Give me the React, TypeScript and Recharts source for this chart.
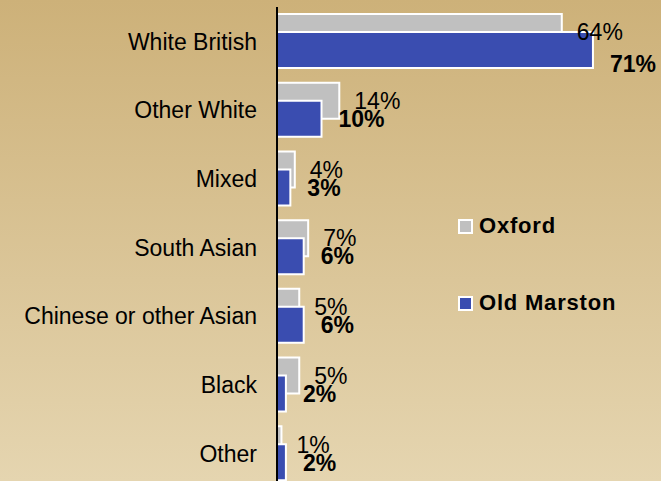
import { BarChart, Bar, XAxis, YAxis, LabelList, Legend } from 'recharts';

const categories = [
  'White British',
  'Other White',
  'Mixed',
  'South Asian',
  'Chinese or other Asian',
  'Black',
  'Other'
];
const oxford = [64, 14, 4, 7, 5, 5, 1];
const oldMarston = [71, 10, 3, 6, 6, 2, 2];
const seriesNames = ['Oxford', 'Old Marston'];

const data = categories.map((name, i) => ({
  name,
  oxford: oxford[i],
  oldMarston: oldMarston[i]
}));

const FONT = '"Liberation Sans", Arial, sans-serif';
const GREY = '#c0c0c0';
const BLUE = '#3a4db0';

// Oxford value: plain, beside the grey bar
const OxfordLabel = (props: any) => {
  const { x, y, width, height, value } = props;
  return (
    <text
      x={x + width + 15}
      y={y + height / 2}
      dy="0.36em"
      fontSize={23}
      fontFamily={FONT}
      fill="#000"
    >
      {value}%
    </text>
  );
};

// Old Marston value: bold; the first one is pushed down to clear the Oxford label
const MarstonLabel = (props: any) => {
  const { x, y, width, height, value, index } = props;
  const shift = index === 0 ? 14 : 0;
  return (
    <text
      x={x + width + 17}
      y={y + height / 2 + shift}
      dy="0.36em"
      fontSize={23}
      fontWeight="bold"
      fontFamily={FONT}
      fill="#000"
    >
      {value}%
    </text>
  );
};

// vertical layout flips the legend order, so put it back in series order
const renderLegend = (props: any) => {
  const items = [...(props.payload || [])].sort(
    (a: any, b: any) => seriesNames.indexOf(a.value) - seriesNames.indexOf(b.value)
  );
  return (
    <div>
      {items.map((entry: any, i: number) => (
        <div
          key={i}
          style={{
            display: 'flex',
            alignItems: 'center',
            height: 24,
            marginBottom: i === 0 ? 53 : 0
          }}
        >
          <span
            style={{
              display: 'inline-block',
              width: 11,
              height: 11,
              background: entry.color,
              border: '2px solid #fff',
              marginRight: 6
            }}
          />
          <span
            style={{
              fontFamily: FONT,
              fontSize: 22,
              fontWeight: 'bold',
              letterSpacing: 0.8,
              color: '#000'
            }}
          >
            {entry.value}
          </span>
        </div>
      ))}
    </div>
  );
};

export default function App() {
  return (
    <div
      style={{
        position: 'absolute',
        left: 0,
        top: 0,
        width: 661,
        height: 481,
        overflow: 'hidden',
        background: 'linear-gradient(to bottom, #cdb179, #e5d5b0)'
      }}
    >
      <BarChart
        width={661}
        height={488}
        data={data}
        layout="vertical"
        margin={{ top: 7, right: 28, bottom: 0, left: 0 }}
        barSize={36}
        barGap={-18}
      >
        <XAxis type="number" domain={[0, 80]} hide />
        <YAxis
          type="category"
          dataKey="name"
          width={277}
          axisLine={{ stroke: '#000', strokeWidth: 2 }}
          tickLine={false}
          tickMargin={14}
          tick={{ fontSize: 23, fill: '#000', fontFamily: FONT }}
        />
        <Legend
          layout="vertical"
          align="center"
          verticalAlign="middle"
          content={renderLegend}
          wrapperStyle={{ left: 458, top: 214, width: 200 }}
        />
        <Bar
          dataKey="oxford"
          name={seriesNames[0]}
          fill={GREY}
          stroke="#fff"
          strokeWidth={2}
          isAnimationActive={false}
        >
          <LabelList dataKey="oxford" content={OxfordLabel} />
        </Bar>
        <Bar
          dataKey="oldMarston"
          name={seriesNames[1]}
          fill={BLUE}
          stroke="#fff"
          strokeWidth={2}
          isAnimationActive={false}
        >
          <LabelList dataKey="oldMarston" content={MarstonLabel} />
        </Bar>
      </BarChart>
    </div>
  );
}
